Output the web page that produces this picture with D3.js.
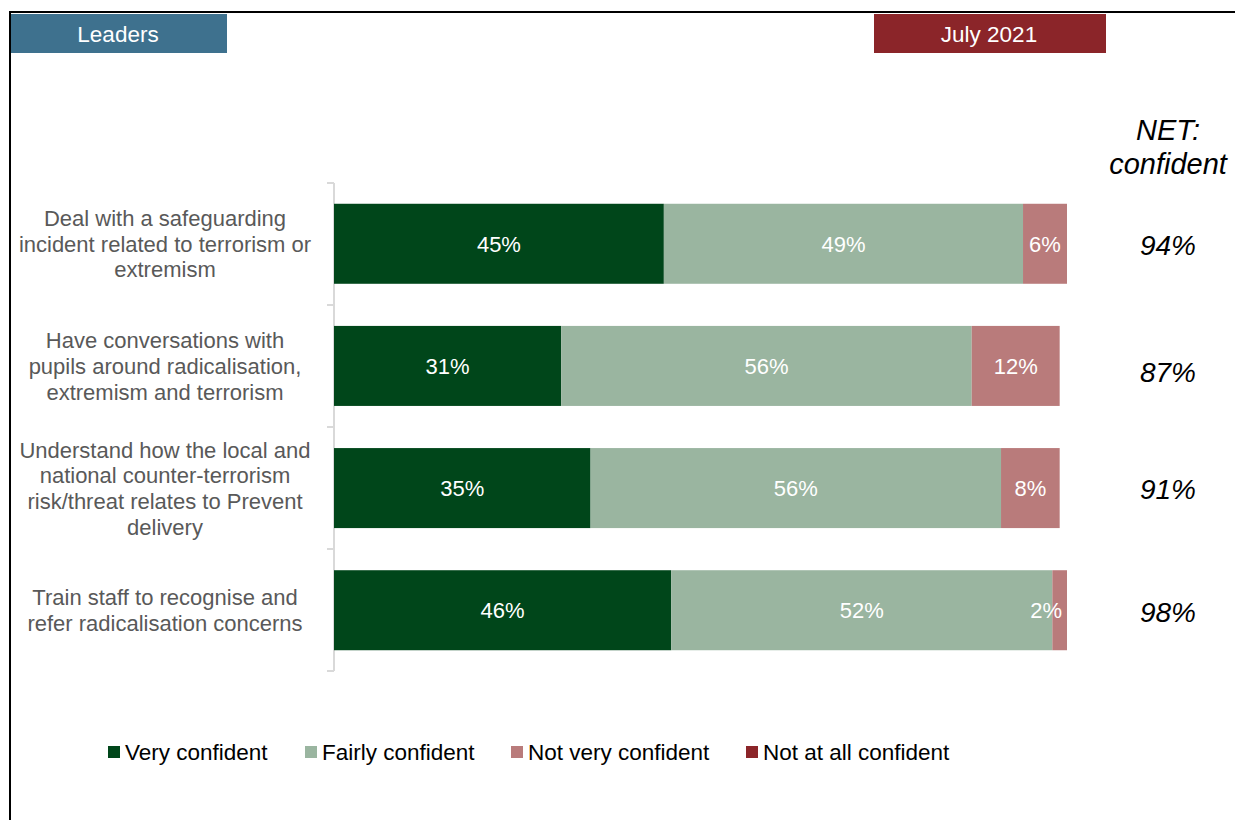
<!DOCTYPE html>
<html>
<head>
<meta charset="utf-8">
<script src="https://cdn.jsdelivr.net/npm/d3@7"></script>
<style>
  html, body { margin: 0; padding: 0; background: #fff; }
  svg { display: block; font-family: "Liberation Sans", Arial, sans-serif; }
</style>
</head>
<body>
<svg id="chart" width="1235" height="820"></svg>
<script>
// ---- data ----
const categories = [
  "Deal with a safeguarding|incident related to terrorism or|extremism",
  "Have conversations with|pupils around radicalisation,|extremism and terrorism",
  "Understand how the local and|national counter-terrorism|risk/threat relates to Prevent|delivery",
  "Train staff to recognise and|refer radicalisation concerns"
];
const seriesNames = ["Very confident", "Fairly confident", "Not very confident", "Not at all confident"];
const veryConfident = [45, 31, 35, 46];
const fairlyConfident = [49, 56, 56, 52];
const notVeryConfident = [6, 12, 8, 2];
const notAtAllConfident = [0, 0, 0, 0];
const netConfident = ["94%", "87%", "91%", "98%"];
const colors = ["#00461A", "#9AB5A0", "#B97B7B", "#8B2529"];

const seriesValues = [veryConfident, fairlyConfident, notVeryConfident, notAtAllConfident];
const rows = categories.map((c, i) => {
  const r = { cat: c };
  seriesNames.forEach((s, j) => r[s] = seriesValues[j][i]);
  return r;
});

const svg = d3.select("#chart");

// frame
svg.append("line").attr("x1", 9).attr("x2", 1235).attr("y1", 12).attr("y2", 12)
  .attr("stroke", "#000").attr("stroke-width", 2);
svg.append("line").attr("x1", 10).attr("x2", 10).attr("y1", 11).attr("y2", 820)
  .attr("stroke", "#000").attr("stroke-width", 2);

// header boxes
svg.append("rect").attr("x", 11).attr("y", 14).attr("width", 216).attr("height", 39).attr("fill", "#3E718E");
svg.append("text").attr("x", 118).attr("y", 41.5).attr("text-anchor", "middle")
  .attr("fill", "#fff").attr("font-size", 22.5).text("Leaders");
svg.append("rect").attr("x", 874).attr("y", 14).attr("width", 232).attr("height", 39).attr("fill", "#8B2529");
svg.append("text").attr("x", 989).attr("y", 41.5).attr("text-anchor", "middle")
  .attr("fill", "#fff").attr("font-size", 22.5).text("July 2021");

// scales
const x = d3.scaleLinear().domain([0, 100]).range([334, 1067]);
const y = d3.scaleBand().domain(categories).range([183, 671]).paddingInner(0.345).paddingOuter(0.17);

const stack = d3.stack().keys(seriesNames)(rows);

// axis (vertical, category boundary ticks)
const axisG = svg.append("g");
axisG.append("line").attr("x1", 334).attr("x2", 334).attr("y1", 183).attr("y2", 671)
  .attr("stroke", "#d9d9d9").attr("stroke-width", 2);
const boundaries = d3.range(categories.length + 1).map(i => 183 + i * (488 / categories.length));
axisG.selectAll("line.tick").data(boundaries).join("line").attr("class", "tick")
  .attr("x1", 327).attr("x2", 334).attr("y1", d => d).attr("y2", d => d)
  .attr("stroke", "#d9d9d9").attr("stroke-width", 2);

// bars
const g = svg.append("g");
stack.forEach((layer, j) => {
  g.selectAll(null).data(layer).join("rect")
    .attr("x", d => x(d[0]))
    .attr("y", (d, i) => y(categories[i]))
    .attr("width", d => Math.max(0, x(d[1]) - x(d[0])))
    .attr("height", y.bandwidth())
    .attr("fill", colors[j]);
  g.selectAll(null).data(layer.filter(d => d[1] - d[0] > 0)).join("text")
    .attr("x", d => {
      const w = x(d[1]) - x(d[0]);
      return w < 30 ? x(d[1]) - 5 : (x(d[0]) + x(d[1])) / 2;
    })
    .attr("text-anchor", d => (x(d[1]) - x(d[0]) < 30 ? "end" : "middle"))
    .attr("y", d => y(d.data.cat) + y.bandwidth() / 2 + 8)
    .attr("fill", "#fff").attr("font-size", 22)
    .text(d => (d[1] - d[0]) + "%");
});

// category labels
categories.forEach(c => {
  const lines = c.split("|");
  const cy = y(c) + y.bandwidth() / 2;
  const lh = 25.7;
  const t = svg.append("text").attr("text-anchor", "middle").attr("fill", "#595959").attr("font-size", 22);
  lines.forEach((l, k) => {
    t.append("tspan").attr("x", 165)
      .attr("y", cy + (k - (lines.length - 1) / 2) * lh + 8).text(l);
  });
});

// NET column
svg.append("text").attr("x", 1168).attr("y", 140).attr("text-anchor", "middle")
  .attr("font-size", 29).attr("font-style", "italic").attr("fill", "#000").text("NET:");
svg.append("text").attr("x", 1168).attr("y", 174).attr("text-anchor", "middle")
  .attr("font-size", 29).attr("font-style", "italic").attr("fill", "#000").text("confident");
const netOffsets = [1, 6, 1, 2];
svg.selectAll("text.net").data(netConfident).join("text").attr("class", "net")
  .attr("x", 1168).attr("text-anchor", "middle")
  .attr("y", (d, i) => y(categories[i]) + y.bandwidth() / 2 + 10 + netOffsets[i])
  .attr("font-size", 28).attr("font-style", "italic").attr("fill", "#000").text(d => d);

// legend
const legendX = [108, 305, 511, 746];
const lg = svg.append("g");
seriesNames.forEach((s, i) => {
  lg.append("rect").attr("x", legendX[i]).attr("y", 746).attr("width", 12).attr("height", 12).attr("fill", colors[i]);
  lg.append("text").attr("x", legendX[i] + 17).attr("y", 760).attr("font-size", 22.5).attr("fill", "#000").text(s);
});
</script>
</body>
</html>
